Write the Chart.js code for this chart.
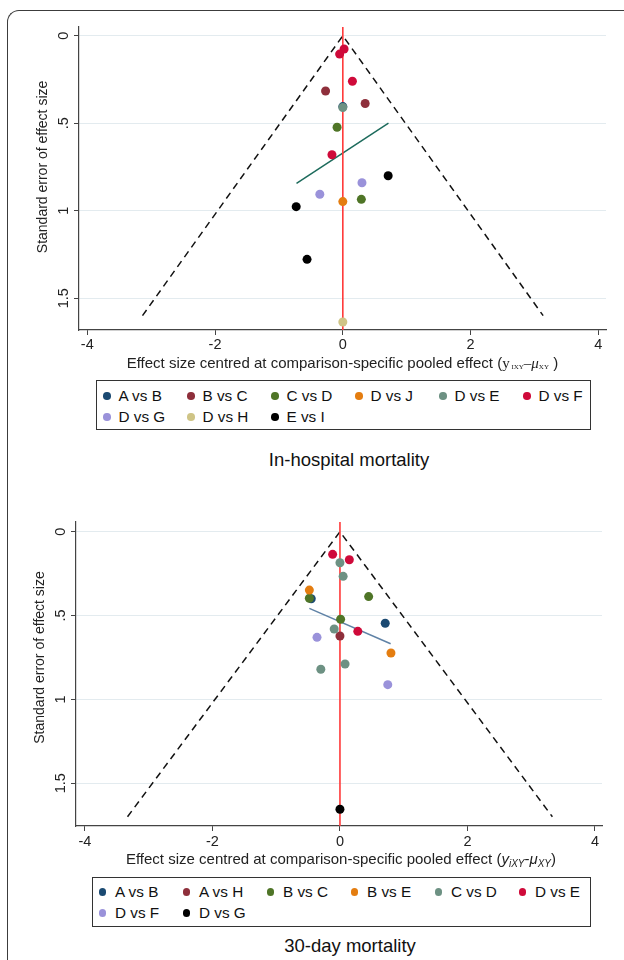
<!DOCTYPE html>
<html>
<head>
<meta charset="utf-8">
<title>Funnel plots</title>
<script src="https://cdn.jsdelivr.net/npm/chart.js@4.4.1/dist/chart.umd.min.js"></script>
<style>
  body { margin: 0; background: #fff; font-family: "Liberation Sans", Arial, sans-serif; }
  #page { position: relative; width: 624px; height: 960px; overflow: hidden; }
  #frame { position: absolute; left: 7px; top: 10px; width: 660px; height: 1000px;
           border-top: 1.5px solid #3c3c3c; border-left: 1.5px solid #3c3c3c; border-top-left-radius: 12px; }
  canvas { position: absolute; left: 0; }
  .legend { position: absolute; border: 1.2px solid #333; box-sizing: border-box; }
  .item { position: absolute; font-size: 15.3px; color: #111; white-space: nowrap; line-height: 18px; height: 18px; }
  .dot { position: absolute; left: 0; top: 5.2px; width: 7.6px; height: 7.6px; border-radius: 50%; }
  .label { position: absolute; top: 0; }
  .title { position: absolute; transform: translateX(-50%); font-size: 18.5px; line-height: 22px; color: #111; white-space: nowrap; }
</style>
</head>
<body>
<div id="page">
  <div id="frame"></div>
  <canvas id="hospChart" width="624" height="378" style="top:0"></canvas>
  <div class="legend" id="hospLegend" style="left:96px; top:380px; width:495px; height:50px"></div>
  <div class="title" style="left:349px; top:449px">In-hospital mortality</div>
  <canvas id="dayChart" width="624" height="390" style="top:480px"></canvas>
  <div class="legend" id="dayLegend" style="left:92px; top:877px; width:499px; height:50px"></div>
  <div class="title" style="left:350px; top:935px">30-day mortality</div>
</div>
<script>
// 軸刻度
const xTickValues = [-4, -2, 0, 2, 4];
const yTickValues = [0, 0.5, 1, 1.5];
const yTickLabels = ['0', '.5', '1', '1.5'];

// In-hospital mortality
const hospNames = ['A vs B', 'B vs C', 'C vs D', 'D vs J', 'D vs E', 'D vs F', 'D vs G', 'D vs H', 'E vs I'];
const hospColors = ['#1b4a72', '#8e2f3b', '#4f7527', '#e47d10', '#6d9183', '#cf0a3a', '#9a92da', '#cfc486', '#000000'];
const hospEffect = [[0.0], [-0.27, 0.35], [-0.09, 0.29], [0.0], [0.0], [0.02, -0.05, 0.15, -0.17], [0.30, -0.36], [0.0], [0.71, -0.73, -0.56]];
const hospSE = [[0.405], [0.316, 0.387], [0.523, 0.935], [0.948], [0.41], [0.076, 0.105, 0.26, 0.68], [0.84, 0.906], [1.636], [0.80, 0.977, 1.278]];
const hospFitX = [-0.725, 0.715];
const hospFitY = [0.844, 0.499];
const hospFunnelSE = 1.6;
const hospXRange = [-4.13, 4.12];
const hospYRange = [-0.05, 1.682];

// 30-day mortality
const dayNames = ['A vs B', 'A vs H', 'B vs C', 'B vs E', 'C vs D', 'D vs E', 'D vs F', 'D vs G'];
const dayColors = ['#1b4a72', '#8e2f3b', '#4f7527', '#e47d10', '#6d9183', '#cf0a3a', '#9a92da', '#000000'];
const dayEffect = [[-0.45, 0.71], [0.0], [-0.48, 0.45, 0.01], [-0.48, 0.80], [0.0, 0.05, -0.09, 0.08, -0.30], [-0.115, 0.147, 0.28], [-0.36, 0.75], [0.0]];
const daySE = [[0.40, 0.546], [0.622], [0.397, 0.387, 0.522], [0.348, 0.723], [0.185, 0.266, 0.58, 0.789, 0.82], [0.135, 0.167, 0.594], [0.63, 0.912], [1.655]];
const dayFitX = [-0.48, 0.795];
const dayFitY = [0.457, 0.668];
const dayFunnelSE = 1.7;
const dayXRange = [-4.14, 4.11];
const dayYRange = [-0.058, 1.755];

const SANS = '"Liberation Sans", Arial, sans-serif';
const SERIF = '"Liberation Serif", "DejaVu Serif", serif';

// 依字型分段繪製文字 (處理下標)
function drawRuns(ctx, runs, cx, baseY) {
    let total = 0;
    runs.forEach(r => { ctx.font = r.font; r.w = ctx.measureText(r.text).width; total += r.w; });
    let x = cx - total / 2;
    ctx.textAlign = 'left';
    ctx.textBaseline = 'alphabetic';
    runs.forEach(r => {
        ctx.font = r.font;
        ctx.fillText(r.text, x, baseY + (r.dy || 0));
        x += r.w;
    });
}

// 旋轉的 y 刻度、y 軸標題與 x 軸標題
const axisText = {
    id: 'axisText',
    afterDraw(chart, args, o) {
        const { ctx, scales: { x, y } } = chart;
        ctx.save();
        ctx.fillStyle = '#222';
        ctx.textAlign = 'center';
        ctx.textBaseline = 'middle';
        ctx.font = '14.5px ' + SANS;
        yTickValues.forEach((v, i) => {
            ctx.save();
            ctx.translate(x.left - 14.7, y.getPixelForValue(v));
            ctx.rotate(-Math.PI / 2);
            ctx.fillText(yTickLabels[i], 0, 0);
            ctx.restore();
        });
        const midY = (y.getPixelForValue(yTickValues[0]) + y.getPixelForValue(yTickValues[yTickValues.length - 1])) / 2;
        ctx.font = '14px ' + SANS;
        ctx.save();
        ctx.translate(x.left - 36, midY);
        ctx.rotate(-Math.PI / 2);
        ctx.fillText('Standard error of effect size', 0, 0);
        ctx.restore();
        drawRuns(ctx, o.runs, o.titleX, o.titleY);
        ctx.restore();
    }
};

function makeFunnel(id, names, colors, effects, ses, fitX, fitY, fitColor, funnelSE, xRange, yRange, layout, runs) {
    const points = names.map((name, i) => ({
        type: 'scatter',
        label: name,
        data: effects[i].map((v, j) => ({ x: v, y: ses[i][j] })),
        backgroundColor: colors[i],
        borderWidth: 0,
        pointRadius: 4.5,
        pointHoverRadius: 4.5,
        order: names.length - i
    }));
    const lines = [
        {   // 95% 漏斗
            type: 'line',
            data: [{ x: -1.96 * funnelSE, y: funnelSE }, { x: 0, y: 0 }, { x: 1.96 * funnelSE, y: funnelSE }],
            borderColor: '#111', borderWidth: 1.5, borderDash: [7, 5],
            pointRadius: 0, fill: false, order: 100
        },
        {   // 回歸線
            type: 'line',
            data: fitX.map((v, i) => ({ x: v, y: fitY[i] })),
            borderColor: fitColor, borderWidth: 1.5,
            pointRadius: 0, fill: false, order: 99
        },
        {   // 零效應線
            type: 'line',
            data: [{ x: 0, y: yRange[0] }, { x: 0, y: yRange[1] }],
            borderColor: '#ff3a3a', borderWidth: 1.6,
            pointRadius: 0, fill: false, order: 98
        }
    ];

    return new Chart(document.getElementById(id), {
        type: 'scatter',
        data: { datasets: lines.concat(points) },
        options: {
            responsive: false,
            animation: false,
            devicePixelRatio: 1,
            layout: { padding: { top: layout.top, right: layout.right, left: 0, bottom: 0 } },
            plugins: {
                legend: { display: false },
                tooltip: { enabled: false },
                axisText: { runs: runs, titleX: layout.titleX, titleY: layout.titleY }
            },
            scales: {
                x: {
                    type: 'linear',
                    min: xRange[0],
                    max: xRange[1],
                    afterBuildTicks: s => { s.ticks = xTickValues.map(v => ({ value: v })); },
                    afterFit: s => { s.height = layout.xHeight; },
                    grid: { drawOnChartArea: false, drawTicks: true, tickLength: 5, color: '#444', tickColor: '#444' },
                    border: { color: '#444', width: 1.2 },
                    ticks: {
                        font: { size: 14.5, family: SANS },
                        color: '#222',
                        padding: layout.tickPad,
                        maxRotation: 0,
                        autoSkip: false,
                        callback: v => String(v)
                    }
                },
                y: {
                    type: 'linear',
                    reverse: true,
                    min: yRange[0],
                    max: yRange[1],
                    afterBuildTicks: s => { s.ticks = yTickValues.map(v => ({ value: v })); },
                    afterFit: s => { s.width = layout.yWidth; },
                    grid: { color: '#e3ebef', tickColor: '#444', tickLength: 5, lineWidth: 1 },
                    border: { color: '#444', width: 1.2 },
                    ticks: { display: false }
                }
            }
        },
        plugins: [axisText]
    });
}

function buildLegend(elId, names, colors, dotX, textDx, rowY) {
    const box = document.getElementById(elId);
    names.forEach((name, i) => {
        const col = i % 6, row = Math.floor(i / 6);
        const item = document.createElement('div');
        item.className = 'item';
        item.style.left = (dotX + col * 84 - 3.8) + 'px';
        item.style.top = (rowY + row * 21 - 9) + 'px';
        item.innerHTML = '<span class="dot" style="background:' + colors[i] + '"></span>' +
            '<span class="label" style="left:' + textDx + 'px">' + name + '</span>';
        box.appendChild(item);
    });
}

const topRuns = [
    { text: 'Effect size centred at comparison-specific pooled effect (', font: '15px ' + SANS },
    { text: 'y', font: '15px ' + SERIF },
    { text: ' IXY', font: '7px ' + SERIF, dy: 1 },
    { text: '–', font: '15px ' + SERIF },
    { text: 'μ', font: 'italic 15px ' + SERIF },
    { text: 'XY', font: '7px ' + SERIF, dy: 1 },
    { text: ' )', font: '15px ' + SANS }
];
const bottomRuns = [
    { text: 'Effect size centred at comparison-specific pooled effect (', font: '15px ' + SANS },
    { text: 'y', font: 'italic 15px ' + SANS },
    { text: 'iXY', font: 'italic 10px ' + SANS, dy: 3 },
    { text: '-', font: '15px ' + SANS },
    { text: 'μ', font: 'italic 15px ' + SANS },
    { text: 'XY', font: 'italic 10px ' + SANS, dy: 3 },
    { text: ')', font: '15px ' + SANS }
];

makeFunnel('hospChart', hospNames, hospColors, hospEffect, hospSE, hospFitX, hospFitY, '#1d6b5c', hospFunnelSE,
    hospXRange, hospYRange,
    { top: 27, right: 18, xHeight: 48, yWidth: 79, tickPad: 1, titleX: 342.4, titleY: 368 }, topRuns);
makeFunnel('dayChart', dayNames, dayColors, dayEffect, daySE, dayFitX, dayFitY, '#5f82a6', dayFunnelSE,
    dayXRange, dayYRange,
    { top: 42, right: 22, xHeight: 44, yWidth: 76, tickPad: 2, titleX: 341, titleY: 383.5 }, bottomRuns);

buildLegend('hospLegend', hospNames, hospColors, 10, 15.3, 15);
buildLegend('dayLegend', dayNames, dayColors, 9.5, 16.3, 14.3);
</script>
</body>
</html>
